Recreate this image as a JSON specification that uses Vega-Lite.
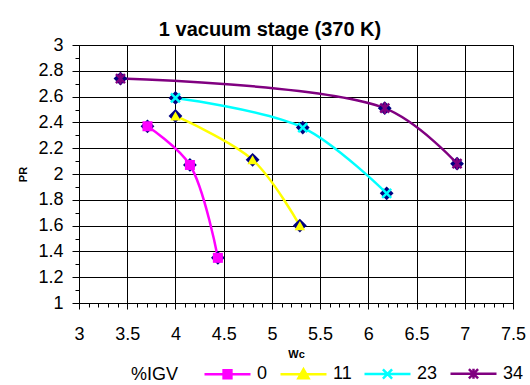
{
  "$schema": "https://vega.github.io/schema/vega-lite/v6.json",
  "autosize": {"type": "none"},
  "width": 434,
  "height": 258,
  "padding": {"left": 79, "top": 45, "right": 17, "bottom": 82},
  "background": "white",
  "title": {
    "text": "1 vacuum stage (370 K)",
    "font": "Liberation Sans",
    "fontSize": 20,
    "fontWeight": "bold",
    "color": "black",
    "anchor": "middle",
    "frame": "group",
    "dx": -26,
    "baseline": "alphabetic",
    "offset": -20
  },
  "config": {
    "view": {"stroke": null},
    "axis": {
      "labelFont": "Liberation Sans",
      "labelFontSize": 18,
      "labelColor": "black",
      "titleFont": "Liberation Sans",
      "titleFontSize": 11,
      "titleFontWeight": "bold",
      "titleColor": "black",
      "domainColor": "black",
      "domainWidth": 1,
      "tickColor": "black",
      "tickWidth": 1,
      "gridColor": "black",
      "gridWidth": 1,
      "gridOpacity": 1,
      "labelFlush": false,
      "labelOverlap": false
    },
    "legend": {
      "orient": "none",
      "legendX": 52,
      "legendY": 304,
      "direction": "horizontal",
      "titleOrient": "left",
      "titleAnchor": "middle",
      "titleBaseline": "top",
      "titleFont": "Liberation Sans",
      "titleFontSize": 18,
      "titleFontWeight": "normal",
      "titleColor": "black",
      "titlePadding": 24,
      "labelFont": "Liberation Sans",
      "labelFontSize": 18,
      "labelColor": "black",
      "labelOffset": 5,
      "columnPadding": 7,
      "symbolSize": 2116,
      "symbolStrokeWidth": 2.5,
      "padding": 0
    }
  },
  "data": {
    "values": [
      {"IGV": "0", "Wc": 3.71, "PR": 2.37},
      {"IGV": "0", "Wc": 4.15, "PR": 2.07},
      {"IGV": "0", "Wc": 4.44, "PR": 1.35},
      {"IGV": "11", "Wc": 4.0, "PR": 2.45},
      {"IGV": "11", "Wc": 4.8, "PR": 2.11},
      {"IGV": "11", "Wc": 5.29, "PR": 1.6},
      {"IGV": "23", "Wc": 4.0, "PR": 2.59},
      {"IGV": "23", "Wc": 5.32, "PR": 2.36},
      {"IGV": "23", "Wc": 6.19, "PR": 1.85},
      {"IGV": "34", "Wc": 3.43, "PR": 2.74},
      {"IGV": "34", "Wc": 6.17, "PR": 2.51},
      {"IGV": "34", "Wc": 6.92, "PR": 2.08}
    ]
  },
  "resolve": {"axis": {"x": "independent", "y": "independent"}},
  "layer": [
    {
      "mark": {"type": "line", "interpolate": "catmull-rom", "strokeWidth": 2.5},
      "encoding": {
        "x": {
          "field": "Wc",
          "type": "quantitative",
          "title": "Wc",
          "scale": {"domain": [3, 7.5], "nice": false, "zero": false},
          "axis": {
            "orient": "bottom",
            "values": [3, 3.5, 4, 4.5, 5, 5.5, 6, 6.5, 7, 7.5],
            "format": "~g",
            "grid": true,
            "tickSize": 6,
            "labelPadding": 16,
            "titlePadding": 5
          }
        },
        "y": {
          "field": "PR",
          "type": "quantitative",
          "title": "PR",
          "scale": {"domain": [1, 3], "nice": false, "zero": false},
          "axis": {
            "orient": "left",
            "values": [1, 1.2, 1.4, 1.6, 1.8, 2, 2.2, 2.4, 2.6, 2.8, 3],
            "format": "~g",
            "grid": true,
            "tickSize": 7,
            "labelPadding": 9,
            "titlePadding": 9
          }
        },
        "color": {
          "field": "IGV",
          "type": "nominal",
          "scale": {"domain": ["0", "11", "23", "34"], "range": ["#FF00FF", "#FFFF00", "#00FFFF", "#800080"]},
          "legend": {
            "title": "%IGV",
            "encode": {
              "symbols": {
                "update": {
                  "shape": {"signal": "datum.value == '0' ? 'M-1,0H1M-0.17,-0.17H0.17V0.17H-0.17Z' : datum.value == '11' ? 'M-1,0H1M-0.22,0.17L0,-0.22L0.22,0.17Z' : datum.value == '23' ? 'M-1,0H1M-0.2,-0.2L0.2,0.2M-0.2,0.2L0.2,-0.2' : 'M-1,0H1M-0.2,-0.2L0.2,0.2M-0.2,0.2L0.2,-0.2M0,-0.22V0.22'"},
                  "fill": {"scale": "color", "field": "value"},
                  "stroke": {"scale": "color", "field": "value"},
                  "strokeWidth": {"value": 2.5},
                  "opacity": {"value": 1},
                  "fillOpacity": {"value": 1},
                  "strokeOpacity": {"value": 1}
                }
              }
            }
          }
        }
      }
    },
    {
      "mark": {"type": "point", "shape": "diamond", "filled": true, "color": "#000080", "size": 190, "opacity": 1},
      "encoding": {
        "x": {
          "field": "Wc",
          "type": "quantitative",
          "axis": {
            "orient": "bottom",
            "values": [3,3.1,3.2,3.3,3.4,3.5,3.6,3.7,3.8,3.9,4,4.1,4.2,4.3,4.4,4.5,4.6,4.7,4.8,4.9,5,5.1,5.2,5.3,5.4,5.5,5.6,5.7,5.8,5.9,6,6.1,6.2,6.3,6.4,6.5,6.6,6.7,6.8,6.9,7,7.1,7.2,7.3,7.4,7.5],
            "labels": false,
            "grid": false,
            "domain": false,
            "tickSize": 4,
            "title": null
          }
        },
        "y": {
          "field": "PR",
          "type": "quantitative",
          "axis": {
            "orient": "left",
            "values": [1,1.1,1.2,1.3,1.4,1.5,1.6,1.7,1.8,1.9,2,2.1,2.2,2.3,2.4,2.5,2.6,2.7,2.8,2.9,3],
            "labels": false,
            "grid": false,
            "domain": false,
            "tickSize": 4,
            "title": null
          }
        }
      }
    },
    {
      "transform": [{"filter": "datum.IGV == '0'"}],
      "mark": {"type": "point", "shape": "square", "filled": true, "color": "#FF00FF", "size": 100, "opacity": 1},
      "encoding": {
        "x": {"field": "Wc", "type": "quantitative", "axis": null},
        "y": {"field": "PR", "type": "quantitative", "axis": null}
      }
    },
    {
      "transform": [{"filter": "datum.IGV == '11'"}],
      "mark": {"type": "point", "shape": "triangle-up", "filled": true, "color": "#FFFF00", "size": 110, "opacity": 1},
      "encoding": {
        "x": {"field": "Wc", "type": "quantitative", "axis": null},
        "y": {"field": "PR", "type": "quantitative", "axis": null}
      }
    },
    {
      "transform": [{"filter": "datum.IGV == '23'"}],
      "mark": {"type": "point", "shape": "M-1,-1L1,1M-1,1L1,-1", "filled": false, "color": "#00FFFF", "strokeWidth": 2.5, "size": 81, "opacity": 1},
      "encoding": {
        "x": {"field": "Wc", "type": "quantitative", "axis": null},
        "y": {"field": "PR", "type": "quantitative", "axis": null}
      }
    },
    {
      "transform": [{"filter": "datum.IGV == '34'"}],
      "mark": {"type": "point", "shape": "M-1,-1L1,1M-1,1L1,-1M0,-1.3V1.3", "filled": false, "color": "#800080", "strokeWidth": 2.5, "size": 81, "opacity": 1},
      "encoding": {
        "x": {"field": "Wc", "type": "quantitative", "axis": null},
        "y": {"field": "PR", "type": "quantitative", "axis": null}
      }
    }
  ]
}
